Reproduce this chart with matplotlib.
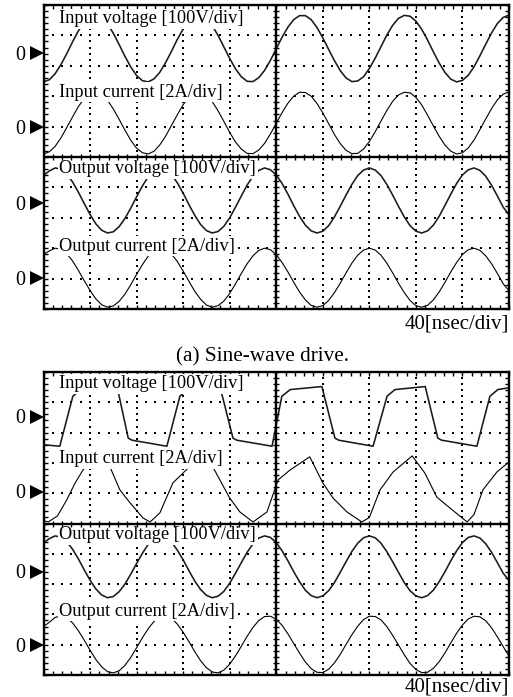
import numpy as np
import matplotlib
matplotlib.use('Agg')
import matplotlib.pyplot as plt
from matplotlib.ticker import MultipleLocator
from matplotlib.transforms import blended_transform_factory

plt.rcParams['font.family'] = ['Liberation Serif', 'DejaVu Serif']

# ---------------- data (screen divisions; time in div of 40 ns) ----------------
t = np.linspace(0, 10, 81)

# (a) Sine-wave drive
a_in_voltage = [7.47, 7.54, 7.74, 8.04, 8.40, 8.79, 9.15, 9.44, 9.62, 9.67,
                9.59, 9.38, 9.07, 8.70, 8.31, 7.96, 7.68, 7.51, 7.47, 7.57,
                7.79, 8.11, 8.48, 8.87, 9.21, 9.48, 9.64, 9.66, 9.55, 9.32,
                9.00, 8.62, 8.24, 7.90, 7.64, 7.49, 7.48, 7.61, 7.85, 8.18,
                8.56, 8.94, 9.27, 9.52, 9.65, 9.65, 9.52, 9.26, 8.92, 8.54,
                8.17, 7.84, 7.60, 7.48, 7.50, 7.64, 7.91, 8.25, 8.63, 9.01,
                9.33, 9.56, 9.66, 9.63, 9.47, 9.20, 8.85, 8.46, 8.09, 7.78,
                7.56, 7.47, 7.52, 7.69, 7.97, 8.33, 8.71, 9.08, 9.39, 9.59, 9.67]
a_in_current = [5.10, 5.17, 5.35, 5.63, 5.97, 6.32, 6.66, 6.92, 7.09, 7.14,
                7.06, 6.87, 6.58, 6.24, 5.88, 5.55, 5.29, 5.14, 5.10, 5.19,
                5.40, 5.69, 6.04, 6.39, 6.72, 6.97, 7.11, 7.13, 7.03, 6.82,
                6.52, 6.17, 5.81, 5.49, 5.26, 5.12, 5.11, 5.23, 5.45, 5.76,
                6.11, 6.46, 6.77, 7.00, 7.13, 7.12, 7.00, 6.76, 6.45, 6.10,
                5.74, 5.44, 5.22, 5.11, 5.12, 5.26, 5.51, 5.83, 6.18, 6.53,
                6.83, 7.04, 7.13, 7.11, 6.96, 6.71, 6.38, 6.02, 5.68, 5.39,
                5.19, 5.10, 5.14, 5.30, 5.56, 5.90, 6.25, 6.59, 6.88, 7.07, 7.14]
a_out_voltage = [4.40, 4.54, 4.64, 4.60, 4.44, 4.18, 3.84, 3.47, 3.11, 2.80,
                 2.59, 2.50, 2.54, 2.71, 2.98, 3.32, 3.69, 4.05, 4.35, 4.55,
                 4.64, 4.59, 4.42, 4.15, 3.81, 3.43, 3.08, 2.78, 2.58, 2.50,
                 2.55, 2.72, 3.00, 3.35, 3.72, 4.08, 4.37, 4.56, 4.64, 4.58,
                 4.41, 4.13, 3.78, 3.40, 3.05, 2.76, 2.57, 2.50, 2.56, 2.74,
                 3.03, 3.38, 3.75, 4.10, 4.39, 4.57, 4.64, 4.57, 4.39, 4.10,
                 3.75, 3.38, 3.03, 2.74, 2.56, 2.50, 2.57, 2.76, 3.05, 3.41,
                 3.78, 4.13, 4.41, 4.58, 4.64, 4.56, 4.37, 4.07, 3.72, 3.35, 3.10]
a_out_current = [1.80, 1.91, 2.00, 1.97, 1.82, 1.58, 1.27, 0.93, 0.61, 0.33,
                 0.14, 0.06, 0.10, 0.25, 0.49, 0.80, 1.14, 1.46, 1.74, 1.92,
                 2.00, 1.96, 1.81, 1.56, 1.25, 0.91, 0.58, 0.32, 0.13, 0.06,
                 0.11, 0.26, 0.51, 0.83, 1.17, 1.49, 1.75, 1.93, 2.00, 1.95,
                 1.79, 1.53, 1.22, 0.88, 0.56, 0.30, 0.12, 0.06, 0.11, 0.28,
                 0.54, 0.85, 1.19, 1.51, 1.77, 1.94, 2.00, 1.94, 1.77, 1.51,
                 1.19, 0.85, 0.54, 0.28, 0.11, 0.06, 0.12, 0.30, 0.56, 0.88,
                 1.22, 1.53, 1.79, 1.95, 2.00, 1.93, 1.75, 1.49, 1.17, 0.83, 0.60]

# (b) trapezoidal input voltage drive
b_in_voltage_t = [0.0, 0.35, 0.63, 0.80, 1.58, 1.82, 1.90, 2.65, 2.93, 3.10,
                  3.79, 4.07, 4.15, 4.91, 5.12, 5.30, 5.98, 6.26, 6.34, 7.08,
                  7.38, 7.55, 8.20, 8.47, 8.55, 9.31, 9.59, 9.76, 10.0]
b_in_voltage = [7.60, 7.55, 9.20, 9.42, 9.52, 7.82, 7.75, 7.55, 9.20, 9.42,
                9.52, 7.82, 7.75, 7.55, 9.20, 9.42, 9.52, 7.82, 7.75, 7.55,
                9.20, 9.42, 9.52, 7.82, 7.75, 7.55, 9.20, 9.42, 9.48]
b_in_current_t = [0.0, 0.10, 0.30, 0.50, 0.68, 0.85, 1.15, 1.43, 1.64, 1.86,
                  2.14, 2.29, 2.50, 2.78, 3.00, 3.35, 3.64, 4.00, 4.22, 4.50,
                  4.80, 5.04, 5.30, 5.72, 6.00, 6.22, 6.52, 6.84, 7.00, 7.23,
                  7.51, 7.92, 8.19, 8.45, 8.78, 9.10, 9.25, 9.44, 9.74, 10.0]
b_in_current = [5.10, 5.05, 5.25, 5.78, 6.34, 6.77, 7.20, 6.86, 6.11, 5.68,
                5.18, 5.05, 5.35, 6.34, 6.67, 7.20, 6.86, 5.84, 5.38, 5.05,
                5.38, 6.44, 6.77, 7.20, 6.34, 5.84, 5.38, 5.05, 5.20, 6.11,
                6.70, 7.23, 6.67, 5.87, 5.45, 5.05, 5.30, 6.11, 6.70, 7.03]
b_out_voltage = [4.36, 4.50, 4.59, 4.55, 4.40, 4.15, 3.83, 3.47, 3.13, 2.84,
                 2.64, 2.55, 2.59, 2.75, 3.00, 3.33, 3.68, 4.02, 4.31, 4.51,
                 4.59, 4.55, 4.39, 4.12, 3.80, 3.44, 3.10, 2.82, 2.63, 2.55,
                 2.60, 2.76, 3.03, 3.36, 3.71, 4.05, 4.33, 4.52, 4.59, 4.54,
                 4.37, 4.10, 3.77, 3.41, 3.08, 2.80, 2.62, 2.55, 2.61, 2.78,
                 3.05, 3.39, 3.74, 4.08, 4.35, 4.53, 4.59, 4.53, 4.35, 4.07,
                 3.74, 3.39, 3.05, 2.78, 2.61, 2.55, 2.62, 2.80, 3.08, 3.41,
                 3.77, 4.10, 4.37, 4.54, 4.59, 4.52, 4.33, 4.05, 3.71, 3.36, 3.12]
b_out_current = [1.60, 1.74, 1.90, 1.95, 1.89, 1.72, 1.46, 1.15, 0.82, 0.51,
                 0.27, 0.11, 0.07, 0.14, 0.32, 0.58, 0.90, 1.23, 1.53, 1.77,
                 1.91, 1.95, 1.87, 1.68, 1.41, 1.10, 0.77, 0.47, 0.24, 0.10,
                 0.07, 0.16, 0.36, 0.63, 0.95, 1.28, 1.57, 1.80, 1.93, 1.94,
                 1.84, 1.64, 1.36, 1.04, 0.72, 0.43, 0.21, 0.09, 0.08, 0.19,
                 0.40, 0.68, 1.01, 1.33, 1.61, 1.83, 1.94, 1.93, 1.82, 1.60,
                 1.31, 0.99, 0.67, 0.38, 0.18, 0.08, 0.09, 0.22, 0.44, 0.73,
                 1.06, 1.38, 1.65, 1.85, 1.94, 1.92, 1.79, 1.56, 1.26, 0.94, 0.62]

a_zero_levels = [8.41, 5.98, 3.48, 1.01]
b_zero_levels = [8.53, 6.05, 3.41, 0.99]

channel_labels = ["Input voltage [100V/div]", "Input current [2A/div]",
                  "Output voltage [100V/div]", "Output current [2A/div]"]
a_label_y = [9.40, 6.98, 4.46, 1.92]
b_label_y = [9.46, 6.99, 4.48, 1.95]
time_label = "40[nsec/div]"
caption_a = "(a) Sine-wave drive."

# ---------------- drawing ----------------
W, H = 513, 697
fig = plt.figure(figsize=(W / 100, H / 100), dpi=100)
renderer = fig.canvas.get_renderer()


def fit_size(txt, target_px):
    """Scale a text's font size so that its rendered width is target_px."""
    w = txt.get_window_extent(renderer).width
    txt.set_fontsize(txt.get_fontsize() * target_px / w)
    return txt.get_fontsize()


probe = fig.text(0, 0, channel_labels[0], fontsize=13)
label_fs = fit_size(probe, 183)
probe.set_text(time_label); probe.set_fontsize(14)
time_fs = fit_size(probe, 105)
probe.set_text(caption_a); probe.set_fontsize(15)
caption_fs = fit_size(probe, 174)
probe.remove()


def px_axes(left, top, right, bottom):
    return fig.add_axes([left / W, 1 - bottom / H, (right - left) / W, (bottom - top) / H])


ax_a = px_axes(43.5, 5, 509, 309)
ax_b = px_axes(43.5, 372, 509, 675)


def draw_panel(ax, traces, zeros, label_ys, label_off):
    ax.set_xlim(0, 10)
    ax.set_ylim(0, 10)
    for axis in (ax.xaxis, ax.yaxis):
        axis.set_major_locator(MultipleLocator(1))
        axis.set_minor_locator(MultipleLocator(0.2))
    ax.tick_params(which='both', direction='in', top=True, right=True,
                   labelbottom=False, labelleft=False, length=3.2, width=1.0)
    for s in ax.spines.values():
        s.set_linewidth(1.7)
        s.set_zorder(6)

    dots = np.arange(0, 10.001, 0.2)
    for g in [1, 2, 3, 4, 6, 7, 8, 9]:
        ax.plot(dots, np.full_like(dots, g), ls='none', marker='s', ms=1.6,
                mew=0, color='k', zorder=1)
        ax.plot(np.full_like(dots, g), dots, ls='none', marker='s', ms=1.6,
                mew=0, color='k', zorder=1)
    ax.axhline(5, color='k', lw=1.7, zorder=5)
    ax.axvline(5, color='k', lw=1.7, zorder=5)
    ax.plot(dots, np.full_like(dots, 5), ls='none', marker='|', ms=4.5, mew=1.0,
            color='k', zorder=5)
    ax.plot(np.full_like(dots, 5), dots, ls='none', marker='_', ms=4.5, mew=1.0,
            color='k', zorder=5)

    for (x, y, lw, col) in traces:
        ax.plot(x, y, color=col, lw=lw, zorder=2, solid_joinstyle='round')

    for lab, ly in zip(channel_labels, label_ys):
        ax.text(0.34, ly, lab, fontsize=label_fs, ha='left', va='baseline', zorder=4,
                bbox=dict(boxstyle='square,pad=0.08', fc='white', ec='none'))

    trans = blended_transform_factory(ax.transAxes, ax.transData)
    for z in zeros:
        ax.plot([-0.0145], [z], marker='>', ms=9.6, color='k', mew=0,
                transform=trans, clip_on=False)
        ax.text(-0.039, z - 0.22, '0', fontsize=14.5, ha='right', va='baseline',
                transform=trans)

    ax.text(1.0, label_off, time_label, fontsize=time_fs, ha='right', va='baseline',
            transform=ax.transAxes)


draw_panel(ax_a,
           [(t, a_in_voltage, 1.15, '#1a1a1a'),
            (t, a_in_current, 0.8, 'black'),
            (t, a_out_voltage, 1.15, '#1a1a1a'),
            (t, a_out_current, 0.8, 'black')],
           a_zero_levels, a_label_y, -0.063)

draw_panel(ax_b,
           [(b_in_voltage_t, b_in_voltage, 1.15, '#1a1a1a'),
            (b_in_current_t, b_in_current, 0.8, 'black'),
            (t, b_out_voltage, 1.15, '#1a1a1a'),
            (t, b_out_current, 0.8, 'black')],
           b_zero_levels, b_label_y, -0.055)

fig.text(263 / W, 1 - 361.7 / H, caption_a, fontsize=caption_fs, ha='center', va='baseline')

fig.savefig('out.png', dpi=100)
